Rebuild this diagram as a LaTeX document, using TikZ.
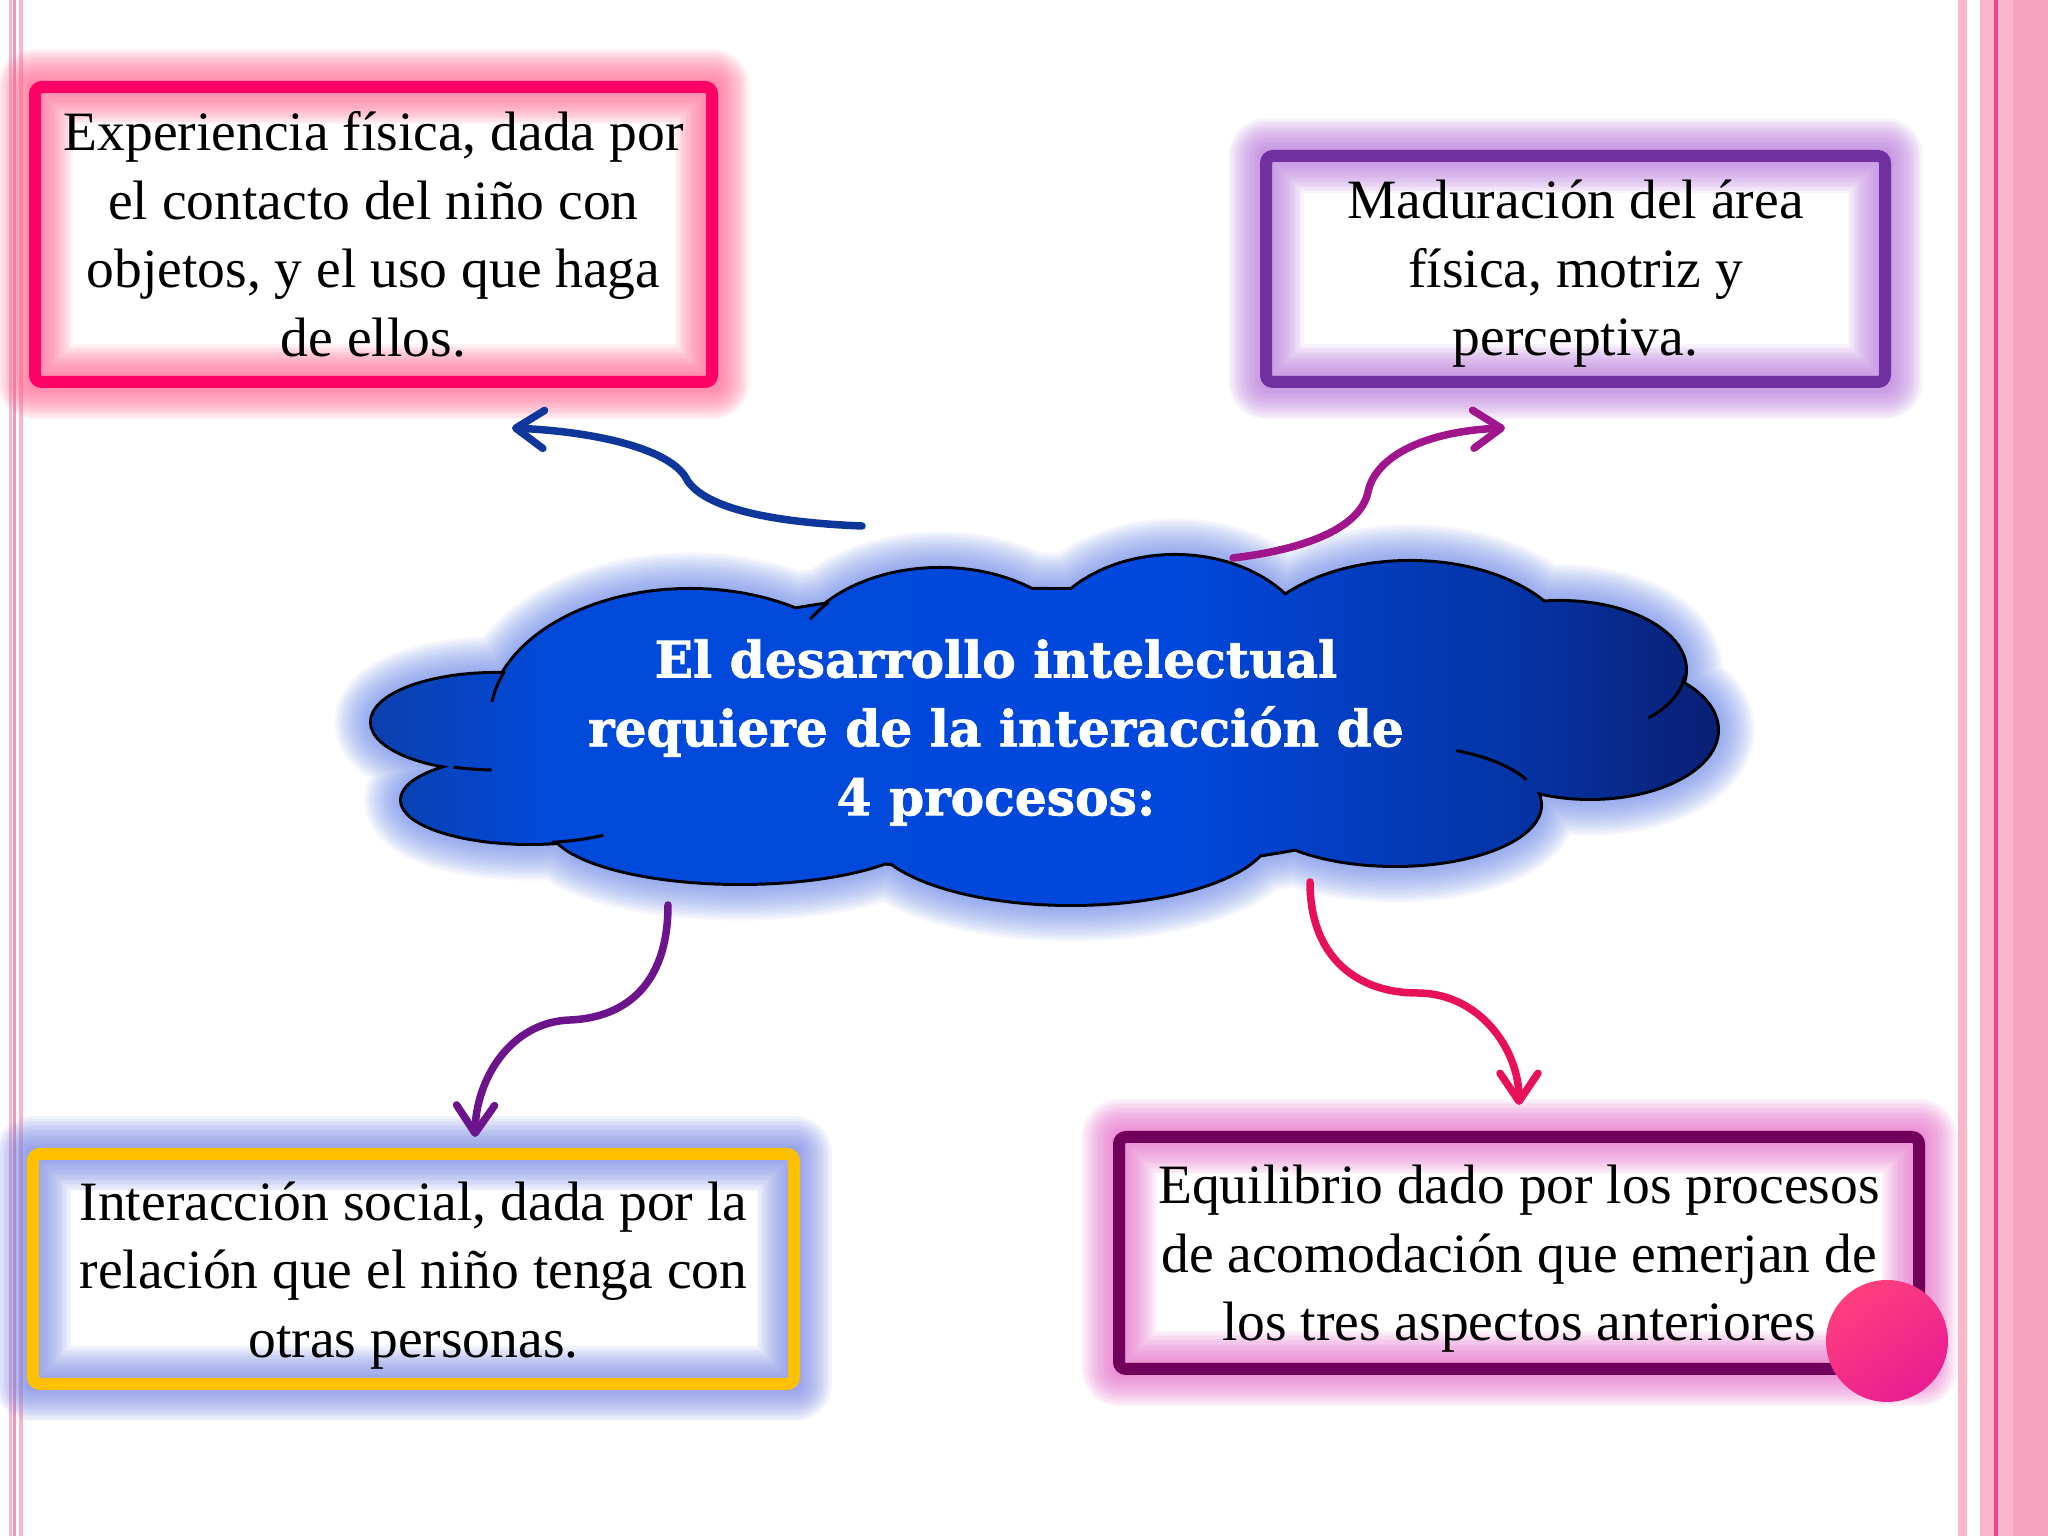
\documentclass[tikz,border=0pt]{standalone}
\usepackage{fontspec}
\setmainfont{Liberation Serif}
\newfontfamily\cloudfont{DejaVu Serif}[BoldFeatures={FakeBold=1.5}]
\usetikzlibrary{arrows.meta,backgrounds}

\definecolor{expPink}{RGB}{255,0,102}
\definecolor{expGlow}{RGB}{255,100,145}
\definecolor{madPurple}{RGB}{112,48,160}
\definecolor{madGlow}{RGB}{185,120,220}
\definecolor{intGold}{RGB}{255,192,0}
\definecolor{intGlow}{RGB}{120,135,230}
\definecolor{equMag}{RGB}{112,0,90}
\definecolor{equGlow}{RGB}{232,110,205}
\definecolor{arrBlue}{RGB}{15,55,155}
\definecolor{arrMag}{RGB}{160,20,140}
\definecolor{arrPurple}{RGB}{108,20,140}
\definecolor{arrRed}{RGB}{232,16,90}
\definecolor{cloudGlow}{RGB}{110,140,235}
\definecolor{lineLight}{RGB}{252,182,204}
\definecolor{lineMid}{RGB}{244,150,182}
\definecolor{lineDark}{RGB}{238,70,140}
\definecolor{circTop}{RGB}{255,62,125}
\definecolor{circBot}{RGB}{232,30,145}

\pgfdeclarehorizontalshading{nube}{100bp}{rgb(0bp)=(0.05,0.25,0.68); rgb(25bp)=(0.05,0.25,0.68); rgb(32bp)=(0.0,0.29,0.86); rgb(55bp)=(0.0,0.28,0.86); rgb(68bp)=(0.02,0.2,0.64); rgb(75bp)=(0.04,0.12,0.45); rgb(100bp)=(0.04,0.12,0.45)}

\tikzset{
  caja/.style={draw=#1, line width=0.12cm, rounded corners=2pt, outer sep=0pt, inner sep=0pt},
  texto/.style={align=center, font=\fontsize{15.8}{19.5}\selectfont},
  flecha/.style={draw=#1, line width=0.075cm, line cap=round,
    -{Straight Barb[length=2.8mm, width=3.8mm, line cap=round, line join=round]}},
  brillo/.style={draw=#1, opacity=0.09, line join=round},
}

% lobulos de la nube: x/y/rx/ry
\newcommand\lobulos{4.96/8.14/1.24/0.48, 5.30/7.36/1.28/0.43, 7.40/7.11/1.90/0.58,
  10.71/7.06/2.00/0.74, 13.95/7.31/1.45/0.60, 15.90/8.06/1.27/0.68,
  15.60/8.66/1.25/0.68, 14.10/8.76/1.65/0.98, 11.75/8.76/1.40/1.04,
  9.40/8.66/1.50/1.01, 6.90/8.16/2.00/1.30, 10.40/8.06/4.80/1.40}

\begin{document}
\begin{tikzpicture}
\useasboundingbox (0,0) rectangle (20.48,15.36);

% nube
\draw[line width=0.06cm] foreach \cx/\cy/\rx/\ry in \lobulos {(\cx,\cy) ellipse [x radius=\rx, y radius=\ry]};
\shade[shading=nube] foreach \cx/\cy/\rx/\ry in \lobulos {(\cx,\cy) ellipse [x radius=\rx, y radius=\ry]};
% trazos interiores de la nube
\draw[line width=0.03cm] foreach \cx/\cy/\rx/\ry/\a/\b in {15.60/8.66/1.25/0.68/-5/-45,
    13.95/7.31/1.45/0.60/25/65, 4.96/8.14/1.24/0.48/250/268, 5.30/7.36/1.28/0.43/280/305,
    6.90/8.16/2.00/1.30/158/172, 9.40/8.66/1.50/1.01/138/150}
  {([shift={(\cx,\cy)}]\a:\rx cm and \ry cm) arc [start angle=\a, end angle=\b, x radius=\rx, y radius=\ry]};

\node[text=white, align=center, font=\cloudfont\bfseries\fontsize{14.3}{19.6}\selectfont] (idea) at (9.96,8.035)
  {El desarrollo intelectual\\requiere de la interacción de\\4 procesos:};

% cajas
\node[caja=expPink, minimum width=6.77cm, minimum height=2.95cm] (exp) at (3.735,13.015) {};
\node[caja=madPurple, minimum width=6.19cm, minimum height=2.26cm] (mad) at (15.755,12.67) {};
\node[caja=intGold, minimum width=7.61cm, minimum height=2.30cm] (int) at (4.135,2.67) {};
\node[caja=equMag, minimum width=8.0cm, minimum height=2.32cm] (equ) at (15.19,2.83) {};

\node[texto] (expTxt) at (3.735,13.015)
  {Experiencia física, dada por\\el contacto del niño con\\objetos, y el uso que haga\\de ellos.};
\node[texto] (madTxt) at (15.755,12.62)
  {Maduración del área\\física, motriz y\\perceptiva.};
\node[texto] (intTxt) at (4.135,2.605)
  {Interacción social, dada por la\\relación que el niño tenga con\\otras personas.};
\node[texto] (equTxt) at (15.19,2.77)
  {Equilibrio dado por los procesos\\de acomodación que emerjan de\\los tres aspectos anteriores};

\node[circle, minimum size=1.22cm, inner sep=0pt, top color=circTop, bottom color=circBot, shading angle=35] (punto) at (18.87,1.95) {};

% flechas
\coordinate (azulIni) at (8.62,10.10);
\coordinate (azulFin) at (5.12,11.08);
\coordinate (magIni) at (12.33,9.78);
\coordinate (magFin) at (15.05,11.08);
\coordinate (morIni) at (6.68,6.31);
\coordinate (morFin) at (4.75,3.99);
\coordinate (rojIni) at (13.10,6.54);
\coordinate (rojFin) at (15.19,4.31);

\draw[flecha=arrBlue] (azulIni) .. controls (7.60,10.14) and (7.00,10.31) .. (6.86,10.58)
  .. controls (6.70,10.86) and (6.00,11.04) .. (azulFin);
\draw[flecha=arrMag] (magIni) .. controls (13.00,9.86) and (13.60,10.06) .. (13.68,10.44)
  .. controls (13.76,10.82) and (14.30,11.05) .. (magFin);
\draw[flecha=arrPurple] (morIni) .. controls (6.68,5.46) and (6.20,5.18) .. (5.70,5.16)
  .. controls (5.10,5.14) and (4.76,4.56) .. (morFin);
\draw[flecha=arrRed] (rojIni) .. controls (13.10,5.76) and (13.60,5.43) .. (14.17,5.43)
  .. controls (14.80,5.43) and (15.19,4.86) .. (rojFin);

\begin{pgfonlayer}{background}
  \fill[white] (0,0) rectangle (20.48,15.36);
  % bandas del margen
  \fill[lineLight] (0.093,0) rectangle (0.117,15.36);
  \fill[lineMid] (0.133,0) rectangle (0.157,15.36);
  \fill[lineLight] (0.193,0) rectangle (0.225,15.36);
  \fill[lineLight] (19.58,0) rectangle (19.67,15.36);
  \fill[lineLight] (19.80,0) rectangle (20.48,15.36);
  \fill[lineMid!60!lineLight] (20.13,0) rectangle (20.48,15.36);
  \fill[lineDark] (19.94,0) rectangle (19.98,15.36);
  % resplandor
  \foreach \nodo/\tono in {exp/expGlow, mad/madGlow, int/intGlow, equ/equGlow}
    \foreach \w in {0.05,0.1,...,0.76}
      \draw[brillo=\tono, line width=\w cm] (\nodo.south west) rectangle (\nodo.north east);
  \foreach \w in {0.05,0.1,...,0.8}
    \draw[cloudGlow, opacity=0.075, line width=\w cm]
      foreach \cx/\cy/\rx/\ry in \lobulos {(\cx,\cy) ellipse [x radius=\rx, y radius=\ry]};
\end{pgfonlayer}
\end{tikzpicture}
\end{document}
